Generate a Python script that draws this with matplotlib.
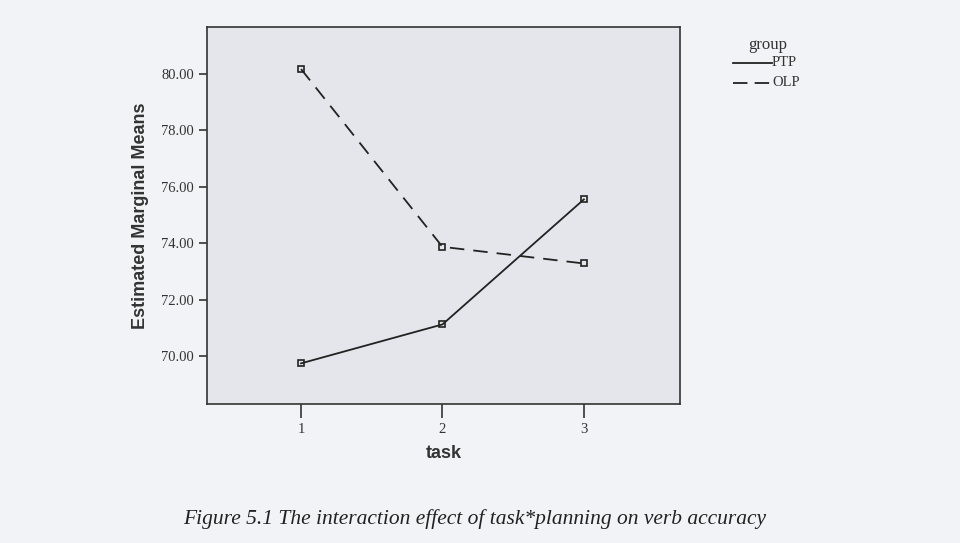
import matplotlib.pyplot as plt

tasks = [1, 2, 3]
ptp_means = [69.74, 71.12, 75.55]
olp_means = [80.17, 73.87, 73.28]
y_ticks = [70, 72, 74, 76, 78, 80]
caption = "Figure 5.1 The interaction effect of task*planning on verb accuracy"

fig = plt.figure(figsize=(9.6, 5.43), dpi=100)
fig.patch.set_facecolor("#f2f3f6")

# plot area in pixel terms: left 207, right 680, top 27, bottom 404
ax = fig.add_axes([207 / 960, 1 - 404 / 543, (680 - 207) / 960, (404 - 27) / 543])
ax.set_facecolor("#e5e6eb")

ax.plot(tasks, ptp_means, color="#222222", lw=1.3, marker="s", ms=5,
        mfc="none", mec="#222222", mew=1.2, label="PTP")
ax.plot(tasks, olp_means, color="#222222", lw=1.3, ls=(0, (8, 5)), marker="s", ms=5,
        mfc="none", mec="#222222", mew=1.2, label="OLP")

ax.set_xlim(0.335, 3.68)
ax.set_ylim(68.3, 81.66)
ax.set_xticks(tasks)
ax.set_xticklabels([str(t) for t in tasks], family="Liberation Serif", fontsize=10.5, color="#333333")
ax.set_yticks(y_ticks)
ax.set_yticklabels([f"{v:.2f}" for v in y_ticks], family="Liberation Serif", fontsize=10.5, color="#333333")
ax.tick_params(axis="both", direction="out", length=6, width=1.2, color="#333333")
ax.tick_params(axis="x", length=10, pad=4)

for s in ax.spines.values():
    s.set_color("#333333")
    s.set_linewidth(1.2)

ax.set_ylabel("Estimated Marginal Means", family="Liberation Sans", fontsize=13,
              fontweight="bold", color="#333333", labelpad=9)
ax.set_xlabel("task", family="Liberation Sans", fontsize=13, fontweight="bold",
              color="#333333", labelpad=6)

# legend drawn to mimic the SPSS style
fig.text(768 / 960, 1 - 45 / 543, "group", family="Liberation Serif", fontsize=12,
         ha="center", va="center", color="#333333")
fig.add_artist(plt.Line2D([733 / 960, 772 / 960], [1 - 63 / 543] * 2, color="#222222", lw=1.3))
fig.add_artist(plt.Line2D([733 / 960, 772 / 960], [1 - 83 / 543] * 2, color="#222222", lw=1.3,
                          ls=(0, (8, 4))))
fig.text(772 / 960, 1 - 62 / 543, "PTP", family="Liberation Serif", fontsize=10.5,
         ha="left", va="center", color="#333333")
fig.text(772 / 960, 1 - 82 / 543, "OLP", family="Liberation Serif", fontsize=10.5,
         ha="left", va="center", color="#333333")

fig.text(475 / 960, 1 - 519 / 543, caption, family="Liberation Serif", style="italic",
         fontsize=15.5, ha="center", va="center", color="#222222")

fig.savefig("out.png", dpi=100, facecolor=fig.get_facecolor())
